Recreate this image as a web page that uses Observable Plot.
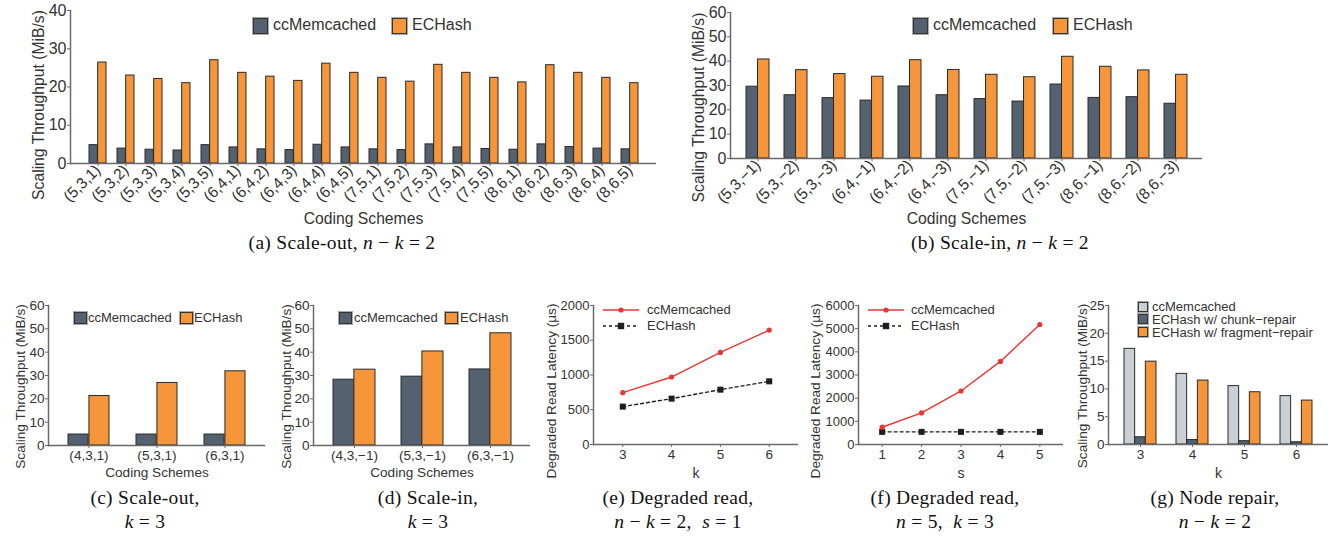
<!DOCTYPE html>
<html><head><meta charset="utf-8">
<script src="https://cdn.jsdelivr.net/npm/d3@7"></script>
<script src="https://cdn.jsdelivr.net/npm/@observablehq/plot@0.6"></script>
<style>
body{margin:0;background:#fff;}
#root{position:relative;width:1331px;height:539px;overflow:hidden;font-family:"Liberation Sans",Arial,sans-serif;color:#333;background:#fff;}
.panel{position:absolute;}
.panel svg{overflow:visible;}
.cap{position:absolute;width:320px;text-align:center;font-family:"Liberation Serif","Times New Roman",serif;font-size:19.5px;color:#111;line-height:24px;letter-spacing:0.3px;white-space:nowrap;}
.cap i{font-style:italic;}
.lt{position:absolute;white-space:nowrap;color:#333;line-height:1;}
.sw{position:absolute;box-sizing:border-box;border:1px solid #333;box-shadow:0 0 0 1px #aaa;}
</style></head>
<body><div id="root"></div>
<script>
// ---------- data ----------
const schemesA = ["(5,3,1)","(5,3,2)","(5,3,3)","(5,3,4)","(5,3,5)","(6,4,1)","(6,4,2)","(6,4,3)","(6,4,4)","(6,4,5)","(7,5,1)","(7,5,2)","(7,5,3)","(7,5,4)","(7,5,5)","(8,6,1)","(8,6,2)","(8,6,3)","(8,6,4)","(8,6,5)"];
const ccA = [4.8,3.9,3.6,3.4,4.8,4.2,3.7,3.5,4.9,4.2,3.7,3.5,5.0,4.2,3.8,3.6,5.0,4.3,3.9,3.7];
const ecA = [26.4,23.0,22.1,21.0,27.0,23.7,22.7,21.6,26.1,23.7,22.4,21.4,25.8,23.7,22.4,21.2,25.7,23.7,22.4,21.0];
const yTicksA = [0,10,20,30,40];

const schemesB = ["(5,3,\u22121)","(5,3,\u22122)","(5,3,\u22123)","(6,4,\u22121)","(6,4,\u22122)","(6,4,\u22123)","(7,5,\u22121)","(7,5,\u22122)","(7,5,\u22123)","(8,6,\u22121)","(8,6,\u22122)","(8,6,\u22123)"];
const ccB = [29.5,26.0,24.8,23.8,29.6,26.0,24.4,23.4,30.4,24.9,25.2,22.5];
const ecB = [40.7,36.3,34.7,33.6,40.4,36.4,34.4,33.4,41.8,37.7,36.2,34.4];
const yTicksB = [0,10,20,30,40,50,60];

const schemesC = ["(4,3,1)","(5,3,1)","(6,3,1)"];
const ccC = [4.7,4.7,4.7];
const ecC = [21.2,26.8,31.8];

const schemesD = ["(4,3,\u22121)","(5,3,\u22121)","(6,3,\u22121)"];
const ccD = [28.2,29.5,32.6];
const ecD = [32.5,40.3,48.1];
const yTicksCD = [0,10,20,30,40,50,60];

const kE = [3,4,5,6];
const ccE = [746,971,1325,1646];
const ecE = [545,660,789,909];
const yTicksE = [0,500,1000,1500,2000];

const sF = [1,2,3,4,5];
const ccF = [746,1363,2310,3587,5180];
const ecF = [545,545,545,545,545];
const yTicksF = [0,1000,2000,3000,4000,5000,6000];

const kG = ["3","4","5","6"];
const ccG = [17.2,12.7,10.5,8.7];
const chunkG = [1.3,0.8,0.6,0.4];
const fragG = [14.9,11.5,9.4,7.9];
const yTicksG = [0,5,10,15,20,25];

const seriesNames = ["ccMemcached","ECHash"];
const seriesNamesG = ["ccMemcached","ECHash w/ chunk\u2212repair","ECHash w/ fragment\u2212repair"];

// ---------- styles ----------
const SLATE = "#536170", ORANGE = "#f5963a", LIGHT = "#c9d1d7", RED = "#ec3434", BLACK = "#1e1e1e";
const AXIS = "#6a6a6a";
const FONT = "'Liberation Sans', Arial, sans-serif";
const root = document.getElementById("root");
const plain = d => String(d);

function place(node, left, top) {
  const d = document.createElement("div");
  d.className = "panel";
  d.style.left = left + "px"; d.style.top = top + "px";
  d.appendChild(node);
  root.appendChild(d);
}

function groupedBars(o) {
  const W = o.width - o.mL - o.mR;
  const n = o.cats.length;
  const step = W / (n - o.pi + 2 * o.po);
  const bw = step * (1 - o.pi);
  const m = o.series.length;
  const marks = [];
  o.series.forEach((s, j) => {
    const data = o.cats.map((c, i) => ({cat: c, v: s.values[i]}));
    marks.push(Plot.barY(data, {
      x: "cat", y: "v", fill: s.fill, stroke: "#2a2a2a", strokeWidth: 1,
      insetLeft: j * bw / m, insetRight: (m - 1 - j) * bw / m
    }));
  });
  marks.push(
    Plot.ruleY([0], {stroke: AXIS, strokeWidth: 1.5}),
    Plot.frame({anchor: "left", stroke: AXIS, strokeWidth: 1.5}),
    Plot.axisX({tickRotate: o.tickRotate || 0, tickSize: 3, tickPadding: o.tickPadding ?? 1, label: null, fontSize: o.xTickSize, fill: "#333", stroke: AXIS}),
    Plot.axisY({ticks: o.yTicks, tickFormat: plain, tickSize: 3, tickPadding: 1, label: null, fontSize: o.yTickSize, fill: "#333", stroke: AXIS}),
    Plot.text([o.yLabel], {text: d => d, frameAnchor: "left", textAnchor: "middle", rotate: -90, dx: o.yLabelDx, dy: o.yLabelDy, fontSize: o.yLabelSize, fill: "#333"}),
    Plot.text([o.xLabel], {text: d => d, frameAnchor: "bottom", textAnchor: "middle", dy: o.xLabelDy, fontSize: o.xLabelSize, fill: "#333", lineAnchor: "middle"})
  );
  const p = Plot.plot({
    width: o.width, height: o.height,
    marginLeft: o.mL, marginRight: o.mR, marginTop: o.mT, marginBottom: o.mB,
    x: {type: "band", domain: o.cats, paddingInner: o.pi, paddingOuter: o.po},
    y: {domain: o.yDomain},
    style: {fontFamily: FONT, fontSize: "14px", color: "#333", background: "transparent", overflow: "visible"},
    marks
  });
  place(p, o.left, o.top);
}

function lines(o) {
  const cc = o.xs.map((x, i) => ({x, v: o.cc[i]}));
  const ec = o.xs.map((x, i) => ({x, v: o.ec[i]}));
  const p = Plot.plot({
    width: o.width, height: o.height,
    marginLeft: o.mL, marginRight: o.mR, marginTop: o.mT, marginBottom: o.mB,
    x: {domain: o.xDomain},
    y: {domain: o.yDomain},
    style: {fontFamily: FONT, fontSize: "13.5px", color: "#333", background: "transparent", overflow: "visible"},
    marks: [
      Plot.ruleY([0], {stroke: AXIS, strokeWidth: 1.5}),
      Plot.frame({anchor: "left", stroke: AXIS, strokeWidth: 1.5}),
      Plot.line(ec, {x: "x", y: "v", stroke: BLACK, strokeWidth: 1.4, strokeDasharray: "3,3"}),
      Plot.dot(ec, {x: "x", y: "v", symbol: "square", r: 3.4, fill: BLACK, stroke: "none"}),
      Plot.line(cc, {x: "x", y: "v", stroke: RED, strokeWidth: 1.4}),
      Plot.dot(cc, {x: "x", y: "v", r: 2.6, fill: RED, stroke: "none"}),
      Plot.axisX({ticks: o.xs, tickFormat: plain, tickSize: 3, tickPadding: 2, label: null, fontSize: 13.5, fill: "#333", stroke: AXIS}),
      Plot.axisY({ticks: o.yTicks, tickFormat: plain, tickSize: 3, tickPadding: 1, label: null, fontSize: 13, fill: "#333", stroke: AXIS}),
      Plot.text([o.yLabel], {text: d => d, frameAnchor: "left", textAnchor: "middle", rotate: -90, dx: o.yLabelDx, dy: o.yLabelDy, fontSize: 13.6, fill: "#333"}),
      Plot.text([o.xLabel], {text: d => d, frameAnchor: "bottom", textAnchor: "middle", dy: o.xLabelDy, fontSize: 14, fill: "#333", lineAnchor: "middle"})
    ]
  });
  place(p, o.left, o.top);
}

// legends (HTML)
function swatch(x, y, w, h, fill) {
  const d = document.createElement("div");
  d.className = "sw";
  Object.assign(d.style, {left: x + "px", top: y + "px", width: w + "px", height: h + "px", background: fill});
  root.appendChild(d);
}
function ltext(x, yc, txt, size) {
  const d = document.createElement("div");
  d.className = "lt";
  d.textContent = txt;
  Object.assign(d.style, {left: x + "px", top: (yc - size * 0.55) + "px", fontSize: size + "px"});
  root.appendChild(d);
}
function lineGlyph(x, yc, w, color, dashed, square) {
  const ns = "http://www.w3.org/2000/svg";
  const s = document.createElementNS(ns, "svg");
  s.setAttribute("width", w); s.setAttribute("height", 10);
  s.style.position = "absolute"; s.style.left = x + "px"; s.style.top = (yc - 5) + "px";
  const l = document.createElementNS(ns, "line");
  l.setAttribute("x1", 0); l.setAttribute("x2", w); l.setAttribute("y1", 5); l.setAttribute("y2", 5);
  l.setAttribute("stroke", color); l.setAttribute("stroke-width", 1.5);
  if (dashed) l.setAttribute("stroke-dasharray", "3,3");
  s.appendChild(l);
  let mk;
  if (square) { mk = document.createElementNS(ns, "rect"); mk.setAttribute("x", w/2 - 3.2); mk.setAttribute("y", 1.8); mk.setAttribute("width", 6.4); mk.setAttribute("height", 6.4); }
  else { mk = document.createElementNS(ns, "circle"); mk.setAttribute("cx", w/2); mk.setAttribute("cy", 5); mk.setAttribute("r", 2.6); }
  mk.setAttribute("fill", color);
  s.appendChild(mk);
  root.appendChild(s);
}
function caption(cx, top, html) {
  const d = document.createElement("div");
  d.className = "cap";
  d.style.left = (cx - 160) + "px"; d.style.top = top + "px";
  d.innerHTML = html;
  root.appendChild(d);
}

// ---------- panels ----------
groupedBars({left: 0, top: 0, width: 670, height: 232, mL: 70, mR: 14, mT: 10, mB: 69,
  cats: schemesA, series: [{values: ccA, fill: SLATE}, {values: ecA, fill: ORANGE}],
  pi: 0.4, po: 0.32, yDomain: [0, 40], yTicks: yTicksA, tickRotate: -45, xTickSize: 15.5, yTickSize: 16,
  yLabel: "Scaling Throughput (MiB/s)", yLabelDx: -32, yLabelDy: 18, yLabelSize: 15.7,
  xLabel: "Coding Schemes", xLabelDy: 55, xLabelSize: 15.7});

groupedBars({left: 680, top: 0, width: 530, height: 232, mL: 50, mR: 8, mT: 12, mB: 74,
  cats: schemesB, series: [{values: ccB, fill: SLATE}, {values: ecB, fill: ORANGE}],
  pi: 0.4, po: 0.34, yDomain: [0, 60], yTicks: yTicksB, tickRotate: -45, xTickSize: 15.5, yTickSize: 16,
  yLabel: "Scaling Throughput (MiB/s)", yLabelDx: -32, yLabelDy: 22, yLabelSize: 15.7,
  xLabel: "Coding Schemes", xLabelDy: 60, xLabelSize: 15.7});

groupedBars({left: 0, top: 295, width: 270, height: 190, mL: 48, mR: 5, mT: 10, mB: 40,
  cats: schemesC, series: [{values: ccC, fill: SLATE}, {values: ecC, fill: ORANGE}],
  pi: 0.39, po: 0.277, yDomain: [0, 60], yTicks: yTicksCD, tickPadding: 2, xTickSize: 13.6, yTickSize: 13.6,
  yLabel: "Scaling Throughput (MiB/s)", yLabelDx: -28, yLabelDy: 11, yLabelSize: 13.6,
  xLabel: "Coding Schemes", xLabelDy: 27, xLabelSize: 13.6});

groupedBars({left: 270, top: 295, width: 265, height: 190, mL: 43, mR: 5, mT: 10, mB: 40,
  cats: schemesD, series: [{values: ccD, fill: SLATE}, {values: ecD, fill: ORANGE}],
  pi: 0.387, po: 0.287, yDomain: [0, 60], yTicks: yTicksCD, tickPadding: 2, xTickSize: 13.6, yTickSize: 13.6,
  yLabel: "Scaling Throughput (MiB/s)", yLabelDx: -27, yLabelDy: 11, yLabelSize: 13.6,
  xLabel: "Coding Schemes", xLabelDy: 27, xLabelSize: 13.6});

lines({left: 530, top: 295, width: 270, height: 190, mL: 63, mR: 2, mT: 10, mB: 41,
  xs: kE, cc: ccE, ec: ecE, xDomain: [2.4, 6.6], yDomain: [0, 2000], yTicks: yTicksE,
  yLabel: "Degraded Read Latency (\u00b5s)", yLabelDx: -42, yLabelDy: 16, xLabel: "k", xLabelDy: 29});

lines({left: 790, top: 295, width: 274, height: 190, mL: 68, mR: 1, mT: 10, mB: 41,
  xs: sF, cc: ccF, ec: ecF, xDomain: [0.4, 5.6], yDomain: [0, 6000], yTicks: yTicksF,
  yLabel: "Degraded Read Latency (\u00b5s)", yLabelDx: -43, yLabelDy: 16, xLabel: "s", xLabelDy: 29});

groupedBars({left: 1050, top: 295, width: 281, height: 190, mL: 58, mR: 3, mT: 10, mB: 41,
  cats: kG, series: [{values: ccG, fill: LIGHT}, {values: chunkG, fill: SLATE}, {values: fragG, fill: ORANGE}],
  pi: 0.39, po: 0.29, yDomain: [0, 25], yTicks: yTicksG, tickPadding: 2, xTickSize: 13.6, yTickSize: 13.6,
  yLabel: "Scaling Throughput (MiB/s)", yLabelDx: -26, yLabelDy: 11, yLabelSize: 13.6,
  xLabel: "k", xLabelDy: 29, xLabelSize: 14});

// ---------- legends ----------
swatch(253, 18, 15, 16, SLATE); ltext(273, 26, seriesNames[0], 16);
swatch(392, 18, 15, 16, ORANGE); ltext(412, 26, seriesNames[1], 16);

swatch(913, 18, 15, 16, SLATE); ltext(933, 26, seriesNames[0], 16);
swatch(1053, 18, 15, 16, ORANGE); ltext(1073, 26, seriesNames[1], 16);

swatch(74, 312, 13, 12, SLATE); ltext(88, 318, seriesNames[0], 13);
swatch(180, 312, 13, 12, ORANGE); ltext(194, 318, seriesNames[1], 13);

swatch(339, 312, 13, 12, SLATE); ltext(354, 318, seriesNames[0], 13);
swatch(445, 312, 13, 12, ORANGE); ltext(460, 318, seriesNames[1], 13);

lineGlyph(603, 310, 36, RED, false, false); ltext(647, 310, seriesNames[0], 13);
lineGlyph(603, 326, 36, BLACK, true, true); ltext(647, 326, seriesNames[1], 13);

lineGlyph(868, 310, 36, RED, false, false); ltext(911, 310, seriesNames[0], 13);
lineGlyph(868, 326, 36, BLACK, true, true); ltext(911, 326, seriesNames[1], 13);

swatch(1138, 302, 10, 10, LIGHT); ltext(1152, 307, seriesNamesG[0], 13);
swatch(1138, 314, 10, 10, SLATE); ltext(1152, 320, seriesNamesG[1], 13);
swatch(1138, 327, 10, 10, ORANGE); ltext(1152, 333, seriesNamesG[2], 13);

// ---------- captions ----------
caption(342, 231, "(a) Scale-out, <i>n</i> \u2212 <i>k</i> = 2");
caption(1000, 231, "(b) Scale-in, <i>n</i> \u2212 <i>k</i> = 2");
caption(145, 486, "(c) Scale-out,<br><i>k</i> = 3");
caption(428, 486, "(d) Scale-in,<br><i>k</i> = 3");
caption(678, 486, "(e) Degraded read,<br><i>n</i> \u2212 <i>k</i> = 2,&nbsp; <i>s</i> = 1");
caption(945, 486, "(f) Degraded read,<br><i>n</i> = 5,&nbsp; <i>k</i> = 3");
caption(1215, 486, "(g) Node repair,<br><i>n</i> \u2212 <i>k</i> = 2");
</script>
</body></html>
